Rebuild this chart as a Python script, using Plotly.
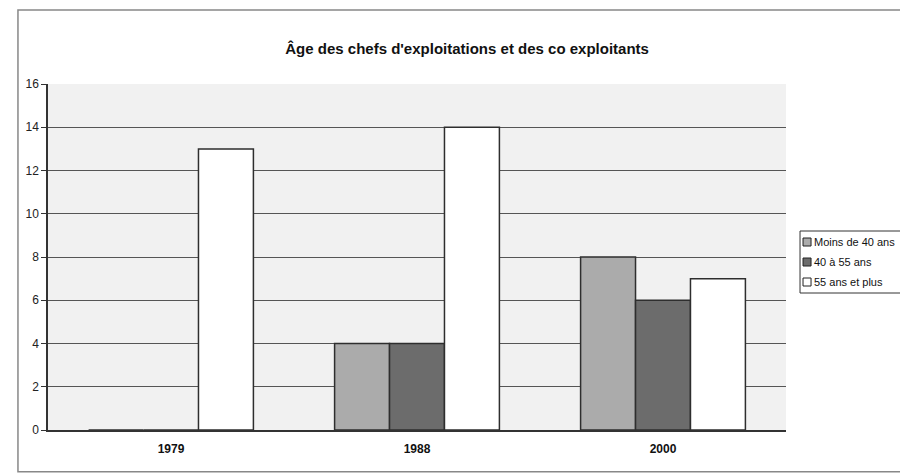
import plotly.graph_objects as go

years = ["1979", "1988", "2000"]
moins_40 = [0, 4, 8]
de_40_55 = [0, 4, 6]
plus_55 = [13, 14, 7]
series_names = ["Moins de 40 ans", "40 à 55 ans", "55 ans et plus"]
series_colors = ["#ababab", "#6c6c6c", "#ffffff"]
y_ticks = [0, 2, 4, 6, 8, 10, 12, 14, 16]

fig = go.Figure()
for name, vals, col in zip(series_names, [moins_40, de_40_55, plus_55], series_colors):
    fig.add_trace(go.Bar(x=years, y=vals, name=name, showlegend=False,
                         marker=dict(color=col, line=dict(color="#2e2e2e", width=1.5))))

font = "Liberation Sans, Arial, sans-serif"
fig.update_layout(
    width=900, height=475,
    margin=dict(l=48, r=114, t=84, b=45, autoexpand=False),
    paper_bgcolor="white",
    plot_bgcolor="#f1f1f1",
    barmode="group",
    bargap=0.33,
    bargroupgap=0,
    font=dict(family=font, size=12, color="#222"),
    title=dict(text="<b>Âge des chefs d'exploitations et des co exploitants</b>",
               x=0.519, xanchor="center", y=0.897, yanchor="middle",
               font=dict(family=font, size=15, color="#111")),
    xaxis=dict(showgrid=False, showline=True, linecolor="#333", linewidth=1.5,
               tickfont=dict(family=font, size=12, color="#111", weight="bold"),
               ticks="", ticklabelstandoff=7),
    yaxis=dict(range=[0, 16], tickvals=y_ticks, showgrid=True, gridcolor="#555",
               gridwidth=1, showline=True, linecolor="#333", linewidth=1.5,
               ticks="outside", ticklen=5, tickcolor="#333",
               tickfont=dict(family=font, size=12, color="#222"),
               zeroline=False),
    showlegend=False,
)

# outer chart border
fig.add_shape(type="rect", xref="paper", yref="paper",
              x0=-0.0407, x1=1.2, y0=-0.121, y1=1.214,
              line=dict(color="#888", width=1.5), layer="below")

# legend box (drawn manually in paper coords)
def px_x(px):
    return (px - 48) / 737.0

def px_y(py):
    return (430 - py) / 346.0

fig.add_shape(type="rect", xref="paper", yref="paper",
              x0=px_x(799), x1=px_x(960), y0=px_y(293), y1=px_y(231),
              line=dict(color="#333", width=1), fillcolor="white")
for i, (name, col) in enumerate(zip(series_names, series_colors)):
    cy = 242 + 20 * i
    fig.add_shape(type="rect", xref="paper", yref="paper",
                  x0=px_x(802), x1=px_x(810), y0=px_y(cy + 4), y1=px_y(cy - 4),
                  line=dict(color="#222", width=1), fillcolor=col)
    fig.add_annotation(xref="paper", yref="paper", x=px_x(811), y=px_y(cy),
                       xanchor="left", yanchor="middle", showarrow=False,
                       text=name, font=dict(family=font, size=11, color="#111"))

fig.write_html("out.html")
